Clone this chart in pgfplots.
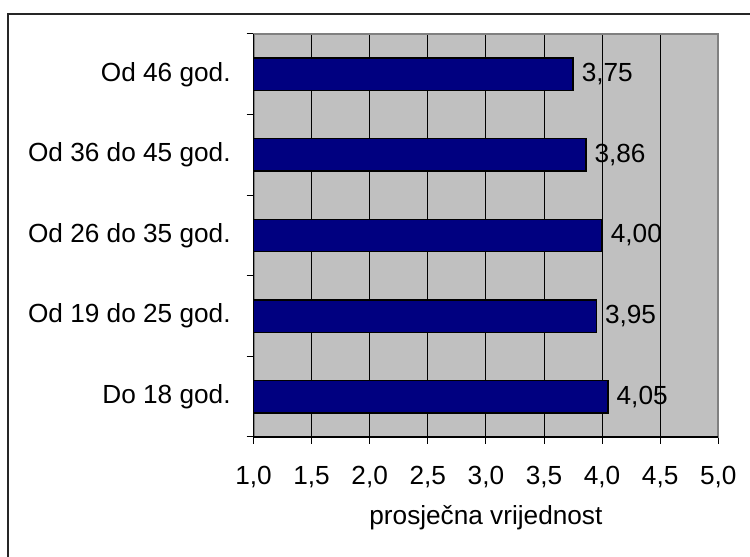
\documentclass[border=0pt]{standalone}
\usepackage{pgfplots}
\pgfplotsset{compat=1.18}
\usepackage{fontspec}
\setmainfont{Liberation Sans}
\definecolor{barblue}{RGB}{0,0,128}
\definecolor{plotgray}{RGB}{192,192,192}
\definecolor{framegray}{RGB}{128,128,128}
\pgfplotstableread{
cat val lab
0 4.05 4,05
1 3.95 3,95
2 4.00 4,00
3 3.86 3,86
4 3.75 3,75
}\datatable
\begin{document}
\fontsize{13.1}{15}\selectfont
\begin{tikzpicture}[x=0.5pt,y=0.5pt]
\useasboundingbox (0,0) rectangle (750,557);
\draw[line width=1pt, black!85] (8,0) -- (8,543) -- (750,543);
\begin{axis}[
  at={(126.75pt,60pt)}, anchor=south west,
  scale only axis, width=232.4pt, height=201.5pt,
  xbar, bar width=16.2pt,
  xmin=1, xmax=5, ymin=-0.5, ymax=4.5,
  xtick={1,1.5,...,5},
  xticklabels={{1,0},{1,5},{2,0},{2,5},{3,0},{3,5},{4,0},{4,5},{5,0}},
  ytick={-0.5,0.5,1.5,2.5,3.5,4.5},
  yticklabels={},
  extra y ticks={0,1,2,3,4},
  extra y tick labels={Do 18 god.,Od 19 do 25 god.,Od 26 do 35 god.,Od 36 do 45 god.,Od 46 god.},
  extra y tick style={major tick length=0pt, yticklabel style={anchor=east, inner sep=0pt, xshift=-11.25pt}},
  xtick pos=lower, ytick pos=left,
  tick align=outside,
  major tick length=3.5pt,
  tick style={black, line width=0.5pt},
  xticklabel style={anchor=base, yshift=-20pt},
  xlabel={prosječna vrijednost},
  xlabel style={at={(axis description cs:0.5,0)}, anchor=base, yshift=-44pt},
  xmajorgrids,
  major grid style={black, line width=0.5pt},
  axis background/.style={fill=plotgray},
  axis line style={draw=framegray, line width=1pt},
  point meta=explicit symbolic,
  nodes near coords,
  every node near coord/.append style={anchor=west, inner sep=4pt, font=\fontsize{13.1}{15}\selectfont, black},
]
\addplot[fill=barblue, draw=black, line width=0.75pt] table[x=val, y=cat, meta=lab] {\datatable};
\end{axis}
\draw[black, line width=0.6pt] (253.5,523) -- (253.5,120) -- (718.3,120);
\end{tikzpicture}
\end{document}
